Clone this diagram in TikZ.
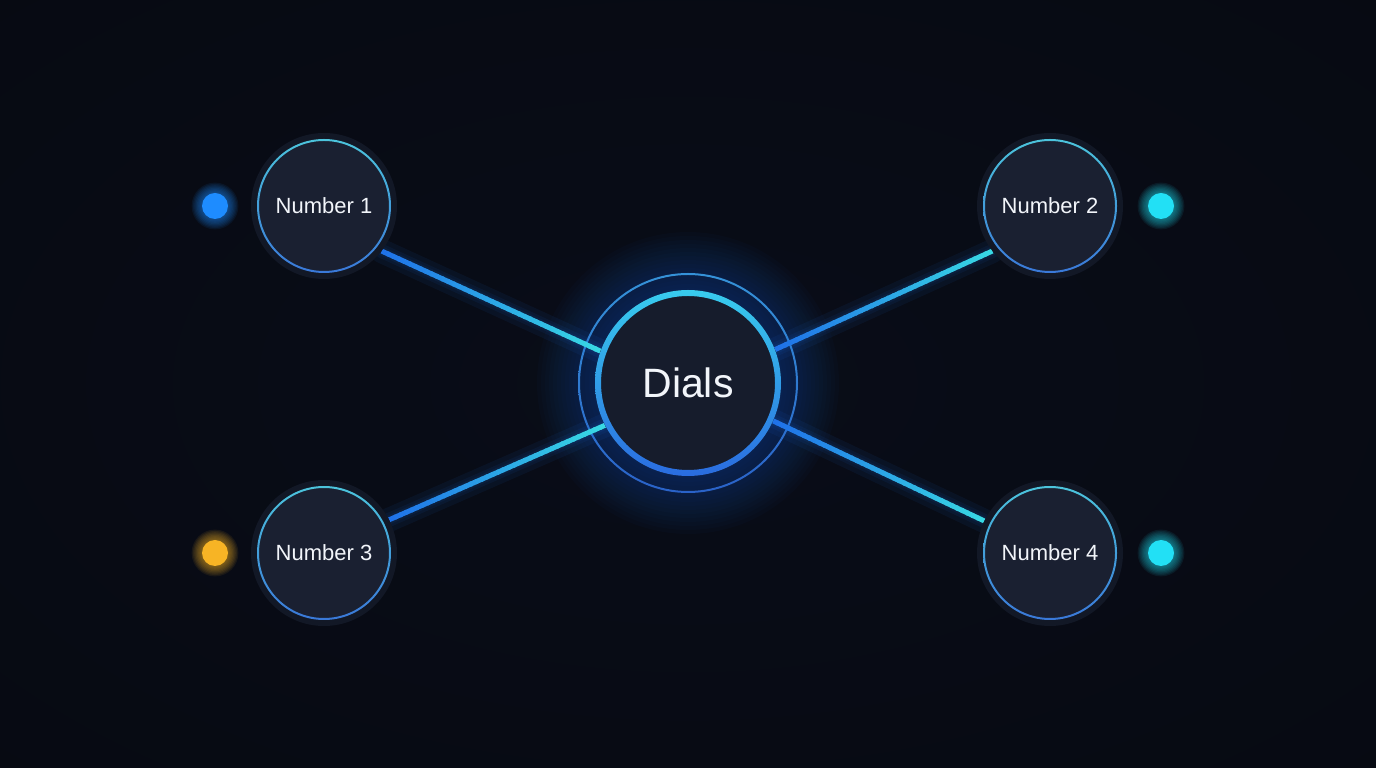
\documentclass[tikz,border=0pt]{standalone}
\usepackage{fontspec}
\setmainfont{Liberation Sans}
\usetikzlibrary{calc}
\definecolor{bgin}{HTML}{090D18}
\definecolor{bgout}{HTML}{060910}
\definecolor{halo}{HTML}{121826}
\definecolor{nfill}{HTML}{1A2031}
\definecolor{cfill}{HTML}{161C2C}
\definecolor{ringtop}{HTML}{4CC4DC}
\definecolor{ringbot}{HTML}{3A78D8}
\definecolor{cringtop}{HTML}{38CCEE}
\definecolor{cringbot}{HTML}{2A6CE0}
\definecolor{oringtop}{HTML}{3592D8}
\definecolor{oringbot}{HTML}{2A62C8}
\definecolor{lblue}{HTML}{1F72E8}
\definecolor{lcyan}{HTML}{38D8E4}
\definecolor{glowblue}{HTML}{1D5FD0}
\definecolor{dotblue}{HTML}{1E8CFF}
\definecolor{dotcyan}{HTML}{22E0F5}
\definecolor{dotorange}{HTML}{F7B425}
\definecolor{txt}{HTML}{F2F5FA}
\pgfdeclareradialshading{bgshade}{\pgfpoint{0bp}{0bp}}{color(0bp)=(bgin); color(50bp)=(bgout); color(80bp)=(bgout)}
\pgfdeclarelayer{back}
\pgfdeclarelayer{glow}
\pgfsetlayers{back,glow,main}
\tikzset{
  numnode/.style={circle, minimum size=146pt, inner sep=0pt, fill=halo, text=txt,
    font=\fontsize{22}{26}\selectfont,
    path picture={
      \fill[nfill] (path picture bounding box.center) circle (65pt);
      \shade[top color=ringtop, bottom color=ringbot, even odd rule]
        (path picture bounding box.center) circle (67pt) circle (65pt);
    }},
  centernode/.style={circle, minimum size=186pt, inner sep=0pt, fill=cfill, text=txt,
    font=\fontsize{41}{48}\selectfont,
    path picture={
      \shade[top color=cringtop, bottom color=cringbot, even odd rule]
        (path picture bounding box.center) circle (93pt) circle (87pt);
    }},
  sdot/.style={circle, minimum size=26pt, inner sep=0pt, fill=#1},
  lineglow/.style={lblue, line width=#1, opacity=0.07, line cap=round}
}
\newcommand\gline[4]{%
  \draw[lineglow=24] (#1) -- (#2);
  \draw[lineglow=14] (#1) -- (#2);
  \draw[lineglow=9] (#1) -- (#2);
  \foreach \i in {0,...,39}{%
    \pgfmathsetmacro\ga{\i/40}%
    \pgfmathsetmacro\gb{min((\i+1.3)/40,1)}%
    \pgfmathtruncatemacro\gp{100-\i*100/39}%
    \draw[#3!\gp!#4, line width=5pt] ($(#1)!\ga!(#2)$) -- ($(#1)!\gb!(#2)$);
  }}
\newcommand\dotglow[2]{%
  \foreach \i in {1,...,8}{\fill[#2, opacity=0.08] (#1) circle ({13+\i*1.3});}}
\begin{document}
\begin{tikzpicture}[x=1pt,y=1pt]
\useasboundingbox (0,0) rectangle (1376,768);
\begin{pgfonlayer}{back}
  \shade[shading=bgshade] (0,0) rectangle (1376,768);
\end{pgfonlayer}

\node[numnode] (n1) at (324,562) {Number 1};
\node[numnode] (n2) at (1050,562) {Number 2};
\node[numnode] (n3) at (324,215) {Number 3};
\node[numnode] (n4) at (1050,215) {Number 4};
\node[centernode] (c) at (688,385) {Dials};

\node[sdot=dotblue] (d1) at (215,562) {};
\node[sdot=dotcyan] (d2) at (1161,562) {};
\node[sdot=dotorange] (d3) at (215,215) {};
\node[sdot=dotcyan] (d4) at (1161,215) {};

\begin{pgfonlayer}{glow}
  \foreach \i in {0,...,14}{\fill[glowblue, opacity=0.028] (c) circle ({95+\i*4});}
  \shade[top color=oringtop, bottom color=oringbot, even odd rule]
    (c) circle (110) circle (108);
  \gline{n1.-38}{c.160}{lblue}{lcyan}
  \gline{n2.218}{c.21}{lcyan}{lblue}
  \gline{n3.27}{c.207}{lblue}{lcyan}
  \gline{n4.154}{c.-24}{lcyan}{lblue}
  \dotglow{d1}{dotblue}
  \dotglow{d2}{dotcyan}
  \dotglow{d3}{dotorange}
  \dotglow{d4}{dotcyan}
\end{pgfonlayer}
\end{tikzpicture}
\end{document}
